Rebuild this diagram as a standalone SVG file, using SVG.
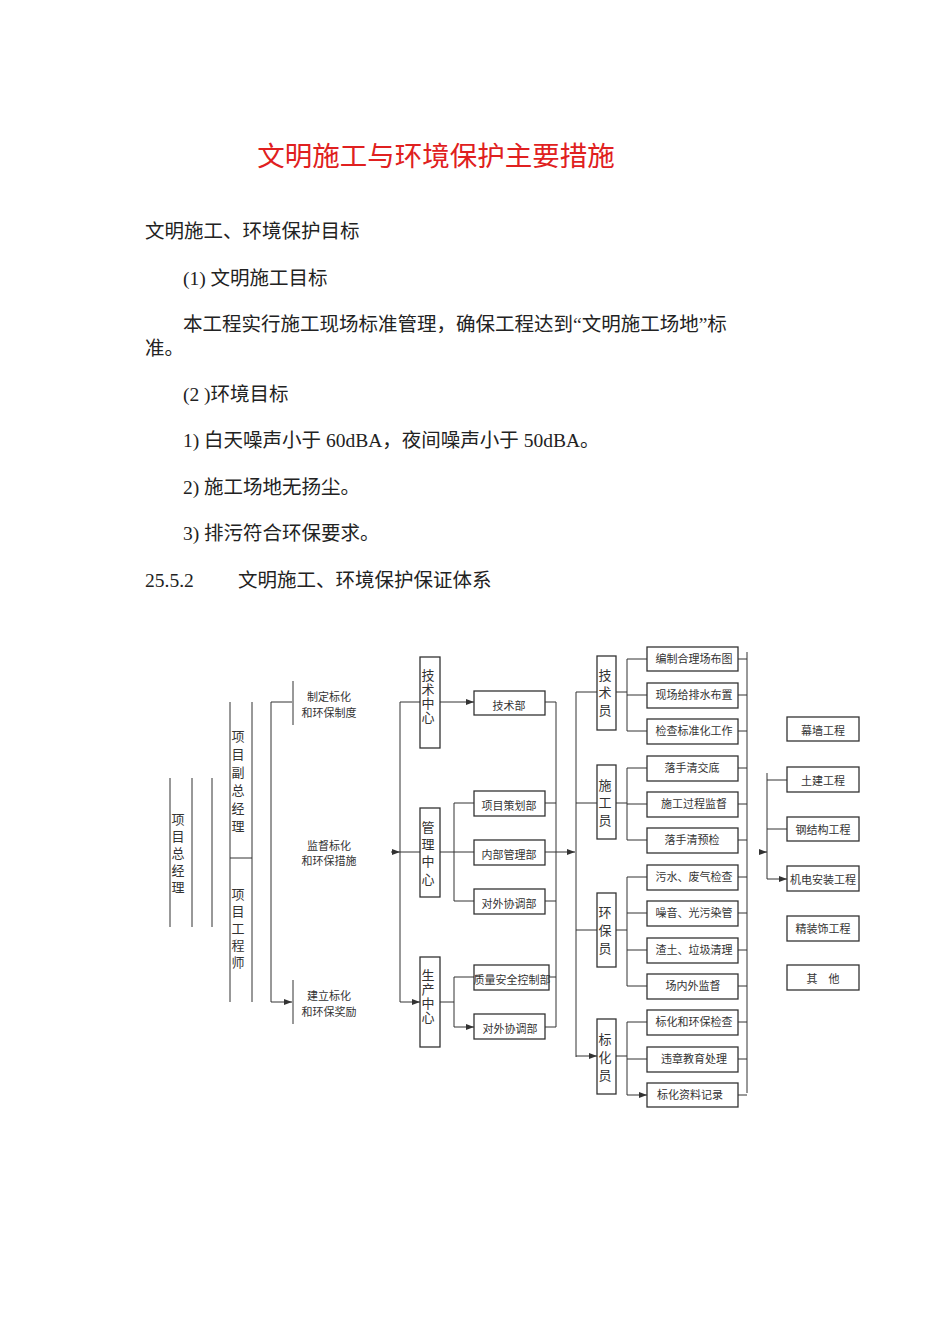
<svg xmlns="http://www.w3.org/2000/svg" width="950" height="1344" viewBox="0 0 950 1344">
<style>
.t{font-family:"Liberation Serif","Noto Sans CJK SC",serif;font-size:19.5px;fill:#222}
.s{font-family:"Liberation Serif","Noto Sans CJK SC",serif;font-size:11px;fill:#333;text-anchor:middle}
.v{font-family:"Liberation Serif","Noto Sans CJK SC",serif;font-size:13px;fill:#333;text-anchor:middle}
.b{fill:#fff;stroke:#333;stroke-width:1.3}
.l{fill:none;stroke:#333;stroke-width:1}
.a{fill:none;stroke:#333;stroke-width:1;marker-end:url(#ar)}
</style>
<defs><marker id="ar" markerWidth="8" markerHeight="6" refX="8" refY="3" orient="auto" markerUnits="userSpaceOnUse"><path d="M0,0L8,3L0,6Z" fill="#333"/></marker></defs>
<rect width="950" height="1344" fill="#fff"/>
<text x="436" y="166" text-anchor="middle" style="font-family:'Liberation Serif','Noto Sans CJK SC',serif;font-size:27.5px;fill:#e02020">文明施工与环境保护主要措施</text>
<text class="t" x="145" y="238">文明施工、环境保护目标</text>
<text class="t" x="183" y="285">(1) 文明施工目标</text>
<text class="t" x="183" y="331">本工程实行施工现场标准管理，确保工程达到“文明施工场地”标</text>
<text class="t" x="145" y="355">准。</text>
<text class="t" x="183" y="401">(2 )环境目标</text>
<text class="t" x="183" y="447">1) 白天噪声小于 60dBA，夜间噪声小于 50dBA。</text>
<text class="t" x="183" y="494">2) 施工场地无扬尘。</text>
<text class="t" x="183" y="540">3) 排污符合环保要求。</text>
<text class="t" x="145" y="587">25.5.2</text>
<text class="t" x="238" y="587">文明施工、环境保护保证体系</text>

<g id="connectors">
<path class="l" d="M170,778V927M192,778V927M212,778V927M230,702V1002M252,702V1002M230,858H252"/>
<path class="l" d="M271,702V1002M293,681V725M293,980V1024"/>
<path class="a" d="M271,702H292M271,1002H292"/>
<path class="a" d="M391,852H400"/>
<path class="l" d="M400,702V1002"/>
<path class="a" d="M400,702H420M400,852H420M400,1002H420"/>
<path class="a" d="M440,702H474"/>
<path class="l" d="M440,852H454M454,803V901M440,1002H454M454,977V1027"/>
<path class="a" d="M454,803H474M454,852H474M454,901H474M454,977H474M454,1027H474"/>
<path class="l" d="M545,702H556M545,803H556M545,901H556M549,977H556M545,1027H556M556,702V1027"/>
<path class="a" d="M545,852H575"/>
<path class="l" d="M576,692V1057"/>
<path class="a" d="M576,692H597M576,803H597M576,930H597M576,1056H597"/>
<path class="l" d="M616,692H627M627,659V731M616,803H627M627,768V840M616,930H627M627,877V986M616,1056H627M627,1022V1095"/>
<path class="a" d="M627,659H647M627,695H647M627,731H647M627,768H647M627,804H647M627,840H647M627,877H647M627,913H647M627,950H647M627,986H647M627,1022H647M627,1059H647M627,1095H647"/>
<path class="l" d="M738,659H747M738,695H747M738,731H747M738,768H747M738,804H747M738,840H747M738,877H747M738,913H747M738,950H747M738,986H747M738,1022H747M738,1059H747M738,1095H747M747,652V1093"/>
<path class="a" d="M760,852H767"/>
<path class="l" d="M767,773V879"/>
<path class="a" d="M767,780H787M767,829H787M767,879H787"/>
</g>

<g id="n-zjl"><text class="v" x="178" y="824">项</text><text class="v" x="178" y="841">目</text><text class="v" x="178" y="858">总</text><text class="v" x="178" y="875">经</text><text class="v" x="178" y="892">理</text></g>
<g id="n-fzjl"><text class="v" x="238" y="741">项</text><text class="v" x="238" y="759">目</text><text class="v" x="238" y="777">副</text><text class="v" x="238" y="795">总</text><text class="v" x="238" y="813">经</text><text class="v" x="238" y="831">理</text></g>
<g id="n-gcs"><text class="v" x="238" y="899">项</text><text class="v" x="238" y="916">目</text><text class="v" x="238" y="933">工</text><text class="v" x="238" y="950">程</text><text class="v" x="238" y="967">师</text></g>
<g id="n-zd"><text class="s" x="329" y="701">制定标化</text><text class="s" x="329" y="717">和环保制度</text></g>
<g id="n-jd"><text class="s" x="329" y="850">监督标化</text><text class="s" x="329" y="865">和环保措施</text></g>
<g id="n-jl"><text class="s" x="329" y="1000">建立标化</text><text class="s" x="329" y="1016">和环保奖励</text></g>

<g id="n-jszx"><rect class="b" x="420" y="657" width="20" height="91"/><text class="v" x="428" y="680">技</text><text class="v" x="428" y="694">术</text><text class="v" x="428" y="708">中</text><text class="v" x="428" y="722">心</text></g>
<g id="n-glzx"><rect class="b" x="420" y="808" width="20" height="89"/><text class="v" x="428" y="832">管</text><text class="v" x="428" y="849">理</text><text class="v" x="428" y="866">中</text><text class="v" x="428" y="884">心</text></g>
<g id="n-sczx"><rect class="b" x="420" y="957" width="20" height="90"/><text class="v" x="428" y="980">生</text><text class="v" x="428" y="994">产</text><text class="v" x="428" y="1008">中</text><text class="v" x="428" y="1022">心</text></g>

<g id="n-jsb"><rect class="b" x="474" y="691" width="71" height="24"/><text class="s" x="509" y="710">技术部</text></g>
<g id="n-xmch"><rect class="b" x="474" y="791" width="71" height="25"/><text class="s" x="509" y="810">项目策划部</text></g>
<g id="n-nbgl"><rect class="b" x="474" y="840" width="71" height="25"/><text class="s" x="509" y="859">内部管理部</text></g>
<g id="n-dwxt1"><rect class="b" x="474" y="889" width="71" height="25"/><text class="s" x="509" y="908">对外协调部</text></g>
<g id="n-zlaq"><rect class="b" x="474" y="965" width="75" height="25"/><text class="s" x="512" y="984">质量安全控制部</text></g>
<g id="n-dwxt2"><rect class="b" x="474" y="1014" width="71" height="25"/><text class="s" x="510" y="1033">对外协调部</text></g>

<g id="n-jsy"><rect class="b" x="597" y="656" width="19" height="74"/><text class="v" x="605" y="680">技</text><text class="v" x="605" y="697">术</text><text class="v" x="605" y="715">员</text></g>
<g id="n-sgy"><rect class="b" x="597" y="765" width="19" height="74"/><text class="v" x="605" y="790">施</text><text class="v" x="605" y="807">工</text><text class="v" x="605" y="825">员</text></g>
<g id="n-hby"><rect class="b" x="597" y="893" width="19" height="74"/><text class="v" x="605" y="917">环</text><text class="v" x="605" y="935">保</text><text class="v" x="605" y="953">员</text></g>
<g id="n-bhy"><rect class="b" x="597" y="1019" width="19" height="75"/><text class="v" x="605" y="1044">标</text><text class="v" x="605" y="1062">化</text><text class="v" x="605" y="1080">员</text></g>

<g id="n-r1"><rect class="b" x="647" y="647" width="91" height="24"/><text class="s" x="694" y="663">编制合理场布图</text></g>
<g id="n-r2"><rect class="b" x="647" y="683" width="91" height="25"/><text class="s" x="694" y="699">现场给排水布置</text></g>
<g id="n-r3"><rect class="b" x="647" y="719" width="91" height="25"/><text class="s" x="694" y="735">检查标准化工作</text></g>
<g id="n-r4"><rect class="b" x="647" y="756" width="91" height="25"/><text class="s" x="692" y="772">落手清交底</text></g>
<g id="n-r5"><rect class="b" x="647" y="792" width="91" height="25"/><text class="s" x="694" y="808">施工过程监督</text></g>
<g id="n-r6"><rect class="b" x="647" y="828" width="91" height="25"/><text class="s" x="692" y="844">落手清预检</text></g>
<g id="n-r7"><rect class="b" x="647" y="865" width="91" height="25"/><text class="s" x="694" y="881">污水、废气检查</text></g>
<g id="n-r8"><rect class="b" x="647" y="901" width="91" height="25"/><text class="s" x="694" y="917">噪音、光污染管</text></g>
<g id="n-r9"><rect class="b" x="647" y="938" width="91" height="25"/><text class="s" x="694" y="954">渣土、垃圾清理</text></g>
<g id="n-r10"><rect class="b" x="647" y="974" width="91" height="25"/><text class="s" x="693" y="990">场内外监督</text></g>
<g id="n-r11"><rect class="b" x="647" y="1010" width="91" height="25"/><text class="s" x="694" y="1026">标化和环保检查</text></g>
<g id="n-r12"><rect class="b" x="647" y="1047" width="91" height="25"/><text class="s" x="694" y="1063">违章教育处理</text></g>
<g id="n-r13"><rect class="b" x="647" y="1083" width="91" height="24"/><text class="s" x="690" y="1099">标化资料记录</text></g>

<g id="n-mq"><rect class="b" x="787" y="717" width="72" height="24"/><text class="s" x="823" y="735">幕墙工程</text></g>
<g id="n-tj"><rect class="b" x="787" y="767" width="72" height="25"/><text class="s" x="823" y="785">土建工程</text></g>
<g id="n-gjg"><rect class="b" x="787" y="817" width="72" height="24"/><text class="s" x="823" y="834">钢结构工程</text></g>
<g id="n-jd2"><rect class="b" x="787" y="866" width="72" height="25"/><text class="s" x="823" y="884">机电安装工程</text></g>
<g id="n-jzs"><rect class="b" x="787" y="916" width="72" height="25"/><text class="s" x="823" y="933">精装饰工程</text></g>
<g id="n-qt"><rect class="b" x="787" y="965" width="72" height="25"/><text class="s" x="823" y="983">其　他</text></g>
</svg>
